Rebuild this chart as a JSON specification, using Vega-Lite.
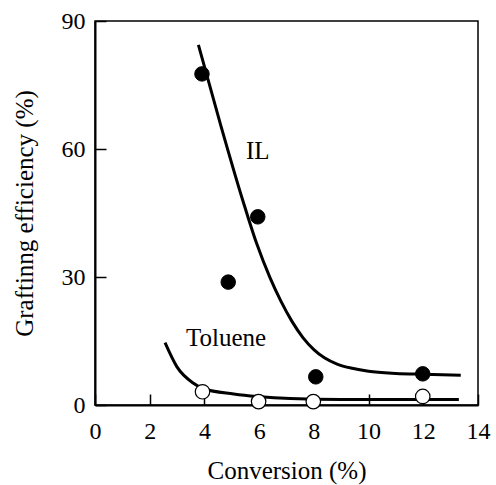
{
  "$schema": "https://vega.github.io/schema/vega-lite/v6.json",
  "autosize": {"type": "none"},
  "width": 383,
  "height": 384,
  "padding": {"left": 95, "top": 21, "right": 18, "bottom": 80},
  "background": "white",
  "datasets": {
    "curves": [
      {"series": "IL", "x": 3.78, "y": 84.4},
      {"series": "IL", "x": 4.6, "y": 65.5},
      {"series": "IL", "x": 5.4, "y": 48.0},
      {"series": "IL", "x": 5.9, "y": 38.0},
      {"series": "IL", "x": 6.4, "y": 29.8},
      {"series": "IL", "x": 6.8, "y": 24.3},
      {"series": "IL", "x": 7.2, "y": 19.6},
      {"series": "IL", "x": 7.6, "y": 15.8},
      {"series": "IL", "x": 8.0, "y": 13.0},
      {"series": "IL", "x": 8.4, "y": 11.0},
      {"series": "IL", "x": 8.85, "y": 9.6},
      {"series": "IL", "x": 9.4, "y": 8.6},
      {"series": "IL", "x": 10.0, "y": 7.9},
      {"series": "IL", "x": 11.0, "y": 7.4},
      {"series": "IL", "x": 12.0, "y": 7.2},
      {"series": "IL", "x": 13.37, "y": 7.0},
      {"series": "Toluene", "x": 2.56, "y": 14.6},
      {"series": "Toluene", "x": 2.99, "y": 9.0},
      {"series": "Toluene", "x": 3.6, "y": 5.1},
      {"series": "Toluene", "x": 3.97, "y": 3.8},
      {"series": "Toluene", "x": 5.07, "y": 2.6},
      {"series": "Toluene", "x": 5.92, "y": 2.0},
      {"series": "Toluene", "x": 7.14, "y": 1.5},
      {"series": "Toluene", "x": 9.0, "y": 1.3},
      {"series": "Toluene", "x": 11.0, "y": 1.3},
      {"series": "Toluene", "x": 13.3, "y": 1.3}
    ],
    "points": [
      {"series": "IL", "x": 3.91, "y": 77.6},
      {"series": "IL", "x": 4.87, "y": 28.8},
      {"series": "IL", "x": 5.95, "y": 44.1},
      {"series": "IL", "x": 8.07, "y": 6.6},
      {"series": "IL", "x": 11.98, "y": 7.3},
      {"series": "Toluene", "x": 3.93, "y": 3.1},
      {"series": "Toluene", "x": 5.98, "y": 0.8},
      {"series": "Toluene", "x": 7.98, "y": 0.8},
      {"series": "Toluene", "x": 11.98, "y": 2.0}
    ],
    "labels": [
      {"text": "IL", "x": 5.95, "y": 59.5},
      {"text": "Toluene", "x": 4.79, "y": 15.7}
    ]
  },
  "config": {
    "font": "Liberation Serif, Times New Roman, Times, serif",
    "view": {"stroke": "black", "strokeWidth": 1.5},
    "axis": {
      "grid": false,
      "domainColor": "black",
      "domainWidth": 2,
      "tickColor": "black",
      "tickWidth": 1.5,
      "tickSize": -11,
      "labelFont": "Liberation Serif, Times New Roman, Times, serif",
      "labelFontSize": 24,
      "labelColor": "black",
      "titleFont": "Liberation Serif, Times New Roman, Times, serif",
      "titleFontSize": 25,
      "titleFontWeight": "normal",
      "titleColor": "black",
      "labelFlush": false,
      "labelOverlap": false
    }
  },
  "layer": [
    {
      "data": {"name": "curves"},
      "mark": {"type": "line", "interpolate": "monotone", "color": "black", "strokeWidth": 3},
      "encoding": {
        "x": {
          "field": "x", "type": "quantitative",
          "scale": {"domain": [0, 14], "nice": false},
          "axis": {"title": "Conversion (%)", "values": [0, 2, 4, 6, 8, 10, 12, 14], "labelPadding": 25, "titlePadding": 15}
        },
        "y": {
          "field": "y", "type": "quantitative",
          "scale": {"domain": [0, 90], "nice": false},
          "axis": {"title": "Graftinng efficiency (%)", "values": [0, 30, 60, 90], "labelPadding": 21, "titlePadding": 24}
        },
        "detail": {"field": "series"}
      }
    },
    {
      "data": {"name": "points"},
      "transform": [{"filter": "datum.series === 'IL'"}],
      "mark": {"type": "point", "shape": "circle", "filled": true, "fill": "black", "stroke": "black", "strokeWidth": 1, "size": 210, "opacity": 1},
      "encoding": {
        "x": {"field": "x", "type": "quantitative"},
        "y": {"field": "y", "type": "quantitative"}
      }
    },
    {
      "data": {"name": "points"},
      "transform": [{"filter": "datum.series === 'Toluene'"}],
      "mark": {"type": "point", "shape": "circle", "filled": true, "fill": "white", "stroke": "black", "strokeWidth": 1.2, "size": 210, "opacity": 1},
      "encoding": {
        "x": {"field": "x", "type": "quantitative"},
        "y": {"field": "y", "type": "quantitative"}
      }
    },
    {
      "data": {"name": "labels"},
      "mark": {"type": "text", "font": "Liberation Serif, Times New Roman, Times, serif", "fontSize": 25, "color": "black", "align": "center", "baseline": "middle"},
      "encoding": {
        "x": {"field": "x", "type": "quantitative"},
        "y": {"field": "y", "type": "quantitative"},
        "text": {"field": "text"}
      }
    }
  ]
}
